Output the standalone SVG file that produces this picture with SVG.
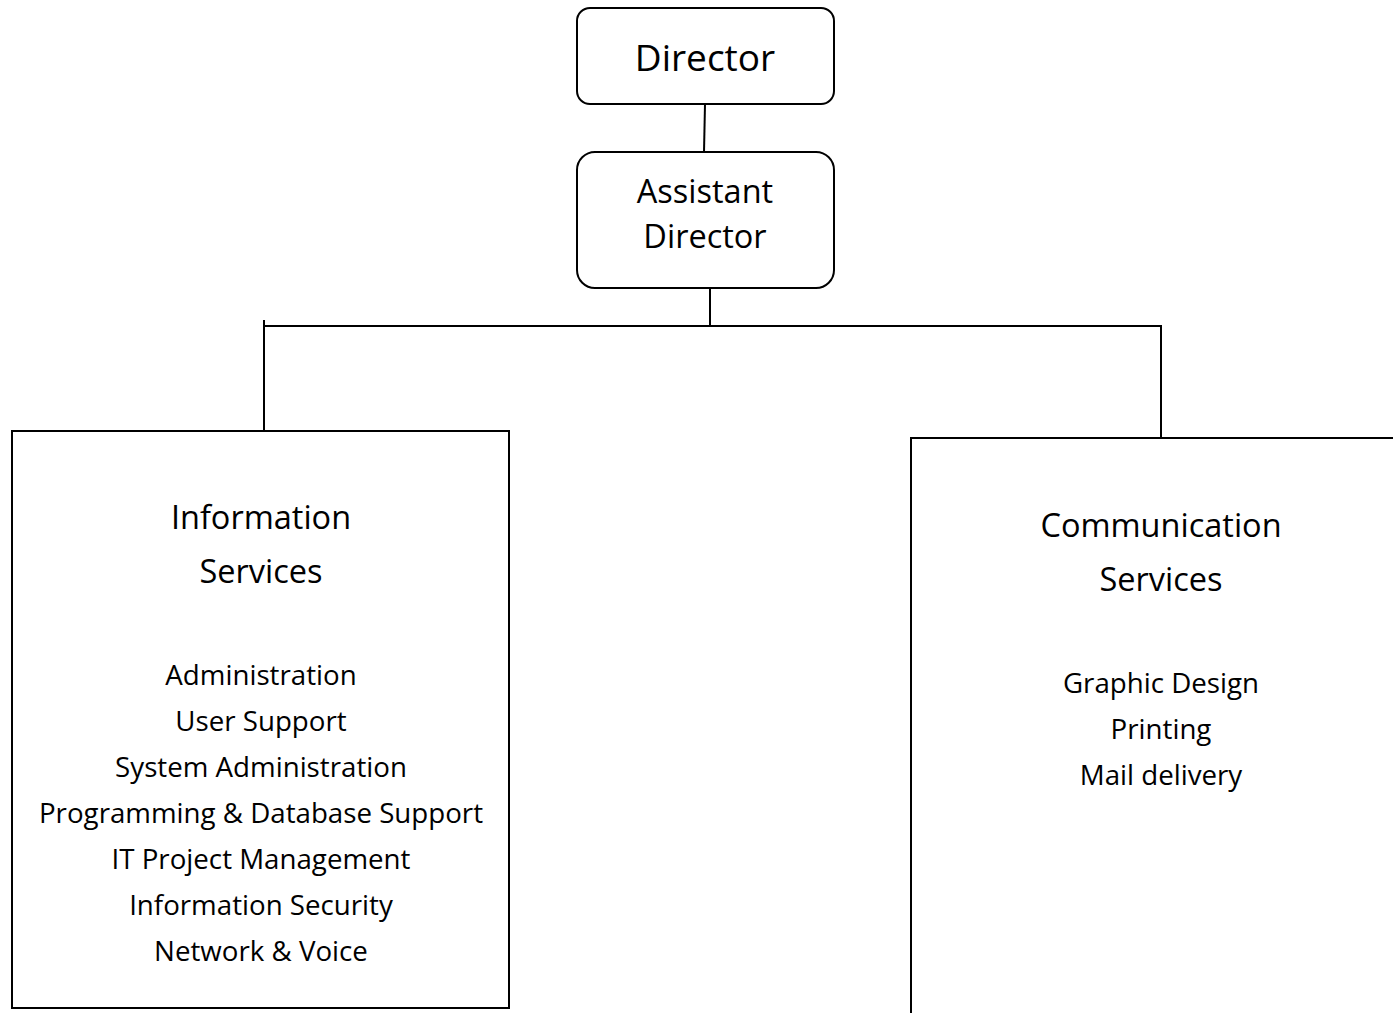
<svg xmlns="http://www.w3.org/2000/svg" width="1393" height="1013" viewBox="0 0 1393 1013">
<style>
.box{fill:#fff;stroke:#000;stroke-width:2}
.ln{stroke:#000;stroke-width:2;fill:none}
text{font-family:"Open Sans","Noto Sans",sans-serif;fill:#000;text-anchor:middle}
.t1{font-size:37px}
.t2{font-size:32.5px}
.t3{font-size:32.5px}
.t4{font-size:27.7px}
</style>
<rect width="1393" height="1013" fill="#fff"/>
<g id="connectors">
<line class="ln" x1="705" y1="104" x2="704" y2="152"/>
<line class="ln" x1="710" y1="288" x2="710" y2="326"/>
<line class="ln" x1="263" y1="326" x2="1162" y2="326"/>
<line class="ln" x1="264" y1="320" x2="264" y2="431"/>
<line class="ln" x1="1161" y1="326" x2="1161" y2="438"/>
</g>
<g id="director">
<rect class="box" x="577" y="8" width="257" height="96" rx="13"/>
<text class="t1" x="705" y="71">Director</text>
</g>
<g id="assistant-director">
<rect class="box" x="577" y="152" width="257" height="136" rx="18"/>
<text class="t2" x="705" y="203">Assistant</text>
<text class="t2" x="705" y="248">Director</text>
</g>
<g id="information-services">
<rect class="box" x="12" y="431" width="497" height="577"/>
<text class="t3" x="261" y="529">Information</text>
<text class="t3" x="261" y="583">Services</text>
<text class="t4" x="261" y="685">Administration</text>
<text class="t4" x="261" y="731">User Support</text>
<text class="t4" x="261" y="777">System Administration</text>
<text class="t4" x="261" y="823">Programming &amp; Database Support</text>
<text class="t4" x="261" y="869">IT Project Management</text>
<text class="t4" x="261" y="915">Information Security</text>
<text class="t4" x="261" y="961">Network &amp; Voice</text>
</g>
<g id="communication-services">
<rect class="box" x="911" y="438" width="500" height="600"/>
<text class="t3" x="1161" y="537">Communication</text>
<text class="t3" x="1161" y="591">Services</text>
<text class="t4" x="1161" y="693">Graphic Design</text>
<text class="t4" x="1161" y="739">Printing</text>
<text class="t4" x="1161" y="785">Mail delivery</text>
</g>
</svg>
